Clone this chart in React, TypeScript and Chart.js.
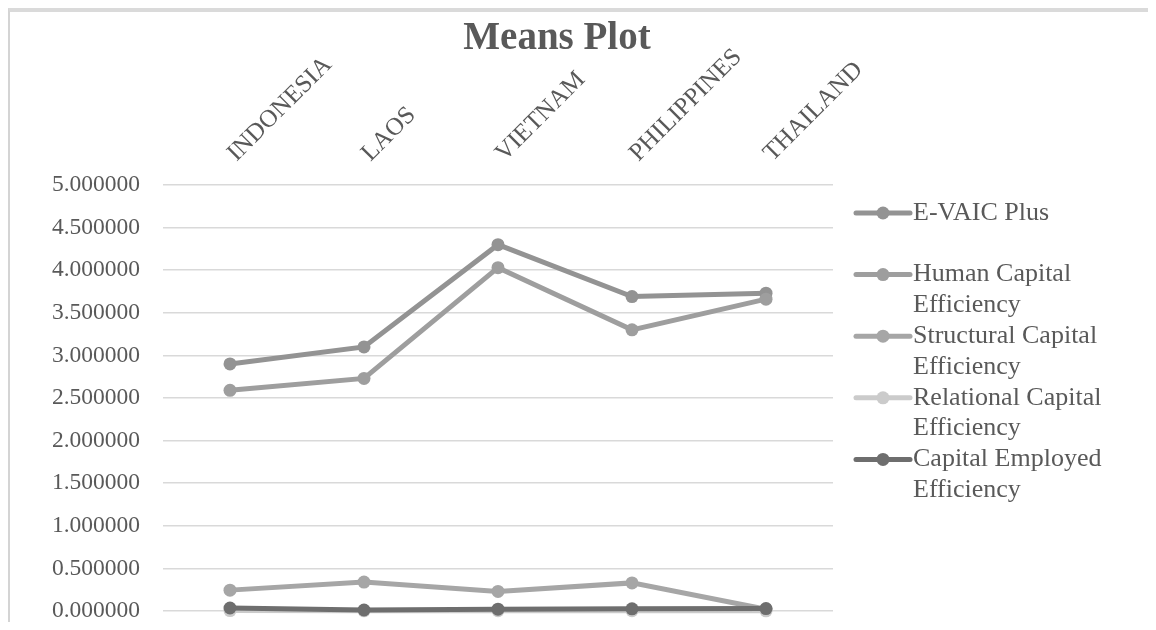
import React, { useEffect, useRef } from "react";
import { Chart, registerables } from "chart.js";

Chart.register(...registerables);

const titleText = "Means Plot";
const categories = ["INDONESIA", "LAOS", "VIETNAM", "PHILIPPINES", "THAILAND"];
const seriesNames = [
  "E-VAIC Plus",
  "Human Capital Efficiency",
  "Structural Capital Efficiency",
  "Relational Capital Efficiency",
  "Capital Employed Efficiency",
];
const legendLines = [
  ["E-VAIC Plus"],
  ["Human Capital", "Efficiency"],
  ["Structural Capital", "Efficiency"],
  ["Relational Capital", "Efficiency"],
  ["Capital Employed", "Efficiency"],
];
const eVaicPlus = [2.9, 3.1, 4.3, 3.69, 3.73];
const humanCapital = [2.59, 2.73, 4.03, 3.3, 3.66];
const structuralCapital = [0.245, 0.34, 0.23, 0.33, 0.02];
const relationalCapital = [0.005, 0.002, 0.003, 0.004, 0.002];
const capitalEmployed = [0.035, 0.012, 0.022, 0.025, 0.028];
const seriesColors = ["#939393", "#9e9e9e", "#a6a6a6", "#cbcbcb", "#6e6e6e"];
const yMin = 0;
const yMax = 5;
const yStep = 0.5;

const FONT = "'Liberation Serif', 'Times New Roman', serif";
const TEXT = "#595959";

const titlePlugin = {
  id: "customTitle",
  afterDraw(chart: any) {
    const ctx = chart.ctx;
    ctx.save();
    ctx.font = `bold 39px ${FONT}`;
    ctx.fillStyle = TEXT;
    ctx.textAlign = "center";
    ctx.textBaseline = "alphabetic";
    ctx.fillText(titleText, 547, 37);
    ctx.restore();
  },
};

const legendPlugin = {
  id: "customLegend",
  afterDraw(chart: any) {
    const ctx = chart.ctx;
    const area = chart.chartArea;
    const x0 = area.right + 23;
    const y0 = area.top + 28;
    const lineH = 30.8;
    ctx.save();
    ctx.font = `26px ${FONT}`;
    ctx.textAlign = "left";
    ctx.textBaseline = "middle";
    chart.data.datasets.forEach((ds: any, i: number) => {
      const y = y0 + i * lineH * 2;
      ctx.strokeStyle = ds.borderColor;
      ctx.lineWidth = 5;
      ctx.lineCap = "round";
      ctx.beginPath();
      ctx.moveTo(x0, y);
      ctx.lineTo(x0 + 54, y);
      ctx.stroke();
      ctx.fillStyle = ds.borderColor;
      ctx.beginPath();
      ctx.arc(x0 + 27, y, 6.5, 0, Math.PI * 2);
      ctx.fill();
      ctx.fillStyle = TEXT;
      legendLines[i].forEach((t, j) => {
        ctx.fillText(t, x0 + 57, y + j * lineH);
      });
    });
    ctx.restore();
  },
};

export default function App() {
  const ref = useRef<HTMLCanvasElement | null>(null);
  useEffect(() => {
    if (!ref.current) return;
    const values = [eVaicPlus, humanCapital, structuralCapital, relationalCapital, capitalEmployed];
    const chart = new Chart(ref.current, {
      type: "line",
      data: {
        labels: categories,
        datasets: seriesNames.map((name, i) => ({
          label: name,
          data: values[i],
          borderColor: seriesColors[i],
          backgroundColor: seriesColors[i],
          pointBackgroundColor: seriesColors[i],
          pointBorderColor: seriesColors[i],
          borderWidth: 5,
          pointRadius: 6.5,
          pointBorderWidth: 0,
          tension: 0,
          fill: false,
          clip: false,
          order: seriesNames.length - i,
        })),
      },
      options: {
        animation: false,
        responsive: false,
        maintainAspectRatio: false,
        layout: { padding: { left: 0, right: 323, top: 0, bottom: 19 } },
        plugins: {
          legend: { display: false },
          title: { display: false },
          tooltip: { enabled: false },
        },
        scales: {
          x: {
            type: "category",
            position: "top",
            offset: true,
            grid: { display: false },
            border: { display: false },
            ticks: {
              autoSkip: false,
              minRotation: 45,
              maxRotation: 45,
              padding: 9,
              labelOffset: 23,
              color: TEXT,
              font: { family: FONT, size: 25 },
            },
            afterFit: (scale: any) => {
              scale.height = 173;
              scale.paddingLeft = 0;
              scale.paddingRight = 0;
            },
          },
          y: {
            min: yMin,
            max: yMax,
            border: { display: false },
            grid: { color: "#d9d9d9", lineWidth: 1.5, drawTicks: false },
            ticks: {
              stepSize: yStep,
              padding: 23,
              color: TEXT,
              font: { family: FONT, size: 23.5 },
              callback: (v: any) => Number(v).toFixed(6),
            },
            afterFit: (scale: any) => {
              scale.width = 153;
              scale.paddingTop = 0;
              scale.paddingBottom = 0;
            },
          },
        },
      },
      plugins: [titlePlugin, legendPlugin],
    });
    return () => chart.destroy();
  }, []);

  return (
    <div
      style={{
        width: 1146,
        height: 618,
        marginBottom: -8,
        borderTop: "4px solid #dadada",
        borderLeft: "2px solid #d4d4d4",
        background: "#fff",
      }}
    >
      <canvas ref={ref} width={1146} height={618} style={{ display: "block" }} />
    </div>
  );
}
